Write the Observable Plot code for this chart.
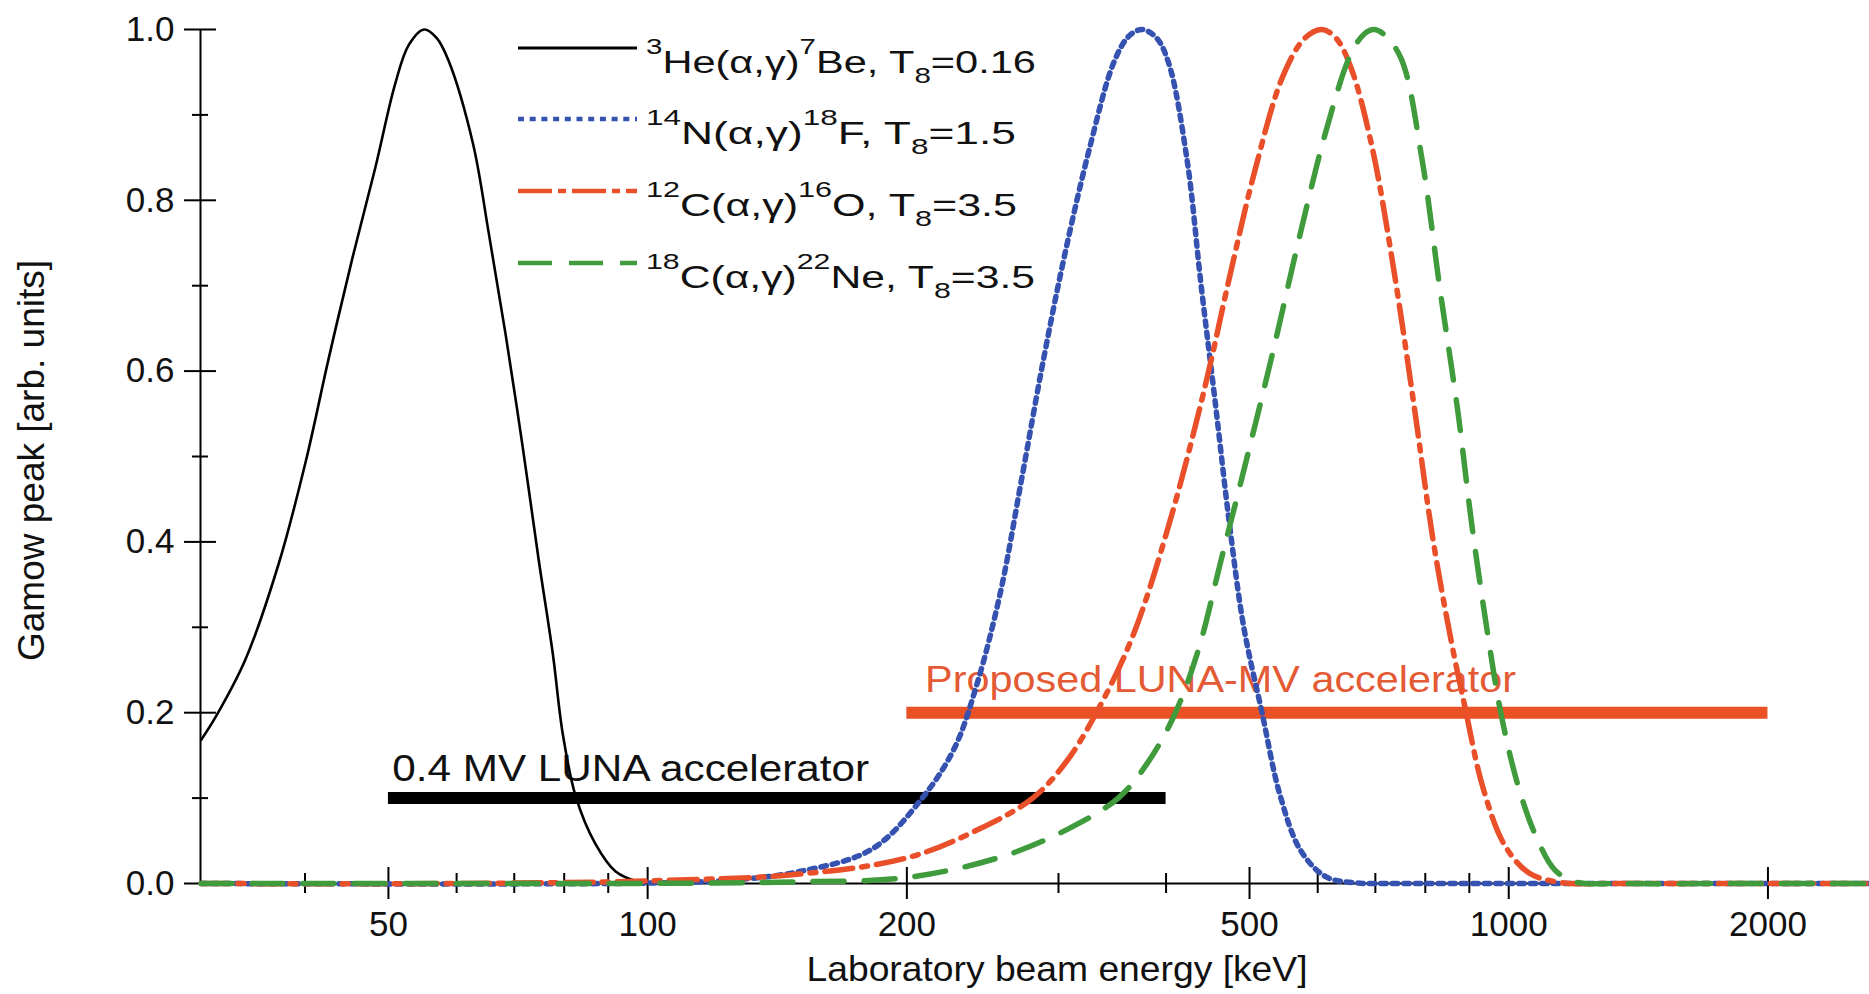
<!DOCTYPE html>
<html>
<head>
<meta charset="utf-8">
<script src="https://cdn.jsdelivr.net/npm/d3@7"></script>
<script src="https://cdn.jsdelivr.net/npm/@observablehq/plot@0.6"></script>
<style>
  html, body { margin: 0; padding: 0; background: #fff; }
  #chart svg { display: block; }
</style>
</head>
<body>
<div id="chart"></div>
<script>
// ---------------- data ----------------
// 3He(a,g)7Be, T8 = 0.16
const heEnergy = [30.3, 31.5, 34.1, 37.3, 40.1, 42.6, 45.4, 48.3, 50.9, 52.8, 55.0, 56.9, 58.7, 62.7, 65.4, 68.4, 71.6, 74.7, 77.6, 79.7, 82.5, 87.0, 91.8, 97.6, 102, 110];
const heGamow  = [0.168, 0.195, 0.262, 0.375, 0.495, 0.614, 0.732, 0.839, 0.936, 0.982, 1.0, 0.99, 0.964, 0.866, 0.761, 0.643, 0.511, 0.380, 0.269, 0.175, 0.102, 0.046, 0.014, 0.002, 0, 0];
// 14N(a,g)18F, T8 = 1.5
const nEnergy = [30.3, 100, 125, 150, 182, 208, 227, 241, 257, 272, 288, 305, 326, 348, 362, 375, 390, 403, 423, 439, 456, 474, 492, 517, 542, 573, 613, 660, 750, 1000, 1600, 2624];
const nGamow  = [0, 0.0005, 0.004, 0.014, 0.04, 0.099, 0.158, 0.232, 0.342, 0.475, 0.612, 0.736, 0.861, 0.962, 0.992, 1.0, 0.99, 0.96, 0.848, 0.703, 0.565, 0.42, 0.302, 0.2, 0.105, 0.039, 0.008, 0.001, 0, 0, 0, 0];
// 12C(a,g)16O, T8 = 3.5
const cEnergy = [30.3, 60, 100, 150, 200, 243, 280, 306, 332, 366, 403, 443, 474, 507, 547, 580, 607, 630, 656, 694, 735, 778, 816, 857, 889, 933, 989, 1057, 1151, 1300, 1700, 2624];
const cGamow  = [0, 0, 0.003, 0.011, 0.03, 0.064, 0.1, 0.142, 0.2, 0.29, 0.42, 0.578, 0.71, 0.834, 0.946, 0.99, 1.0, 0.99, 0.955, 0.862, 0.72, 0.553, 0.405, 0.285, 0.208, 0.113, 0.045, 0.012, 0.001, 0, 0, 0];
// 18C(a,g)22Ne, T8 = 3.5 (label as printed)
const oEnergy = [30.3, 80, 120, 150, 200, 257, 308, 352, 380, 408, 435, 464, 497, 531, 573, 613, 656, 680, 697, 715, 750, 793, 832, 873, 906, 942, 979, 1027, 1078, 1131, 1193, 1350, 1800, 2624];
const oGamow  = [0, 0, 0.0005, 0.002, 0.007, 0.031, 0.064, 0.1, 0.14, 0.195, 0.27, 0.381, 0.5, 0.618, 0.762, 0.88, 0.972, 0.995, 1.0, 0.995, 0.966, 0.848, 0.696, 0.552, 0.42, 0.302, 0.2, 0.112, 0.053, 0.016, 0.002, 0, 0, 0];

// accelerator ranges
const accelName  = ["0.4 MV LUNA accelerator", "Proposed LUNA-MV accelerator"];
const accelStart = [50, 200];
const accelEnd   = [400, 2000];
const accelLevel = [0.1, 0.2];
const accelLabelE = [50.5, 210];
const accelLabelG = [0.134, 0.238];

// axes
const xDomain = [30.25, 2624];
const xMajorTicks = [50, 100, 200, 500, 1000, 2000];
const xMinorTicks = [40, 60, 70, 80, 90, 300, 400, 600, 700, 800, 900];
const yMajorTicks = [0, 0.2, 0.4, 0.6, 0.8, 1.0];
const yMinorTicks = [0.1, 0.3, 0.5, 0.7, 0.9];
const xTitle = "Laboratory beam energy [keV]";
const yTitle = "Gamow peak [arb. units]";

// legend pieces
const legIsoA  = ["3", "14", "12", "18"];
const legElemA = ["He", "N", "C", "C"];
const legIsoB  = ["7", "18", "16", "22"];
const legElemB = ["Be", "F", "O", "Ne"];
const legT8    = ["0.16", "1.5", "3.5", "3.5"];

// ---------------- build ----------------
const toRows = (E, G) => E.map((e, i) => ({E: e, G: G[i]}));
const heRows = toRows(heEnergy, heGamow);
const nRows = toRows(nEnergy, nGamow);
const cRows = toRows(cEnergy, cGamow);
const oRows = toRows(oEnergy, oGamow);
const accelRows = accelName.map((n, i) => ({name: n, x1: accelStart[i], x2: accelEnd[i], y: accelLevel[i], lx: accelLabelE[i], ly: accelLabelG[i]}));

const BLUE = "#3552b0", RED = "#e9502a", GREEN = "#3f9b3b";
const FONT = "'Liberation Sans', Arial, Helvetica, sans-serif";

const W = 1869, H = 994;
const mL = 200, mR = 0, mT = 29, mB = 111;
const innerW = W - mL - mR, innerH = H - mT - mB;
const CURVE = "catmull-rom";

const svg = Plot.plot({
  width: W, height: H,
  marginLeft: mL, marginRight: mR, marginTop: mT, marginBottom: mB,
  x: {type: "log", domain: xDomain, axis: null},
  y: {domain: [0, 1], axis: null},
  style: {fontFamily: FONT, background: "#fff", overflow: "visible"},
  marks: [
    // axis lines
    Plot.ruleY([0], {stroke: "#000", strokeWidth: 2}),
    Plot.ruleX([xDomain[0]], {stroke: "#000", strokeWidth: 2}),
    // x ticks (crossing the axis)
    Plot.tickX(xMajorTicks, {x: d => d, insetTop: innerH - 16, insetBottom: -16, stroke: "#000", strokeWidth: 2}),
    Plot.tickX(xMinorTicks, {x: d => d, insetTop: innerH - 10, insetBottom: -10, stroke: "#000", strokeWidth: 2}),
    // y ticks (crossing the axis)
    Plot.tickY(yMajorTicks, {y: d => d, insetLeft: -16, insetRight: innerW - 16, stroke: "#000", strokeWidth: 2}),
    Plot.tickY(yMinorTicks, {y: d => d, insetLeft: -8, insetRight: innerW - 8, stroke: "#000", strokeWidth: 2}),
    // tick labels
    Plot.text(xMajorTicks, {x: d => d, y: 0, dy: 41, text: d => String(d), fontSize: 35, lineAnchor: "middle", fill: "#111"}),
    Plot.text(yMajorTicks, {x: xDomain[0], y: d => d, dx: -26, text: d => d.toFixed(1), textAnchor: "end", lineAnchor: "middle", fontSize: 35, fill: "#111"}),
    // axis titles
    Plot.text([xTitle], {frameAnchor: "bottom", dx: 22, dy: 86, text: d => d, textAnchor: "middle", lineAnchor: "middle", fontSize: 35, fill: "#111"}),
    Plot.text([yTitle], {frameAnchor: "left", dx: -168, dy: 4, rotate: -90, text: d => d, textAnchor: "middle", lineAnchor: "middle", fontSize: 37, fill: "#111"}),
    // accelerator bars
    Plot.ruleY(accelRows, {y: "y", x1: "x1", x2: "x2", stroke: (d, i) => i === 0 ? "#000" : "#ea5125", strokeWidth: 12, strokeLinecap: "butt"}),
    Plot.text(accelRows, {x: "lx", y: "ly", text: "name", textAnchor: "start", lineAnchor: "middle", fontSize: 37, fill: (d, i) => i === 0 ? "#111" : "#e35a34"}),
    // curves
    Plot.line(heRows, {x: "E", y: "G", stroke: "#000", strokeWidth: 2.6, curve: CURVE}),
    Plot.line(nRows, {x: "E", y: "G", stroke: BLUE, strokeWidth: 5.5, strokeDasharray: "5.5,6", curve: CURVE}),
    Plot.line(cRows, {x: "E", y: "G", stroke: RED, strokeWidth: 5.5, strokeDasharray: "28,9,6,9", curve: CURVE}),
    Plot.line(oRows, {x: "E", y: "G", stroke: GREEN, strokeWidth: 5.5, strokeDasharray: "31,20", curve: CURVE})
  ]
});

document.getElementById("chart").appendChild(svg);

// stretch some texts to the widths measured on the reference
const fit = (str, len) => d3.select(svg).selectAll("text")
  .filter(function () { return this.textContent === str; })
  .attr("textLength", len).attr("lengthAdjust", "spacingAndGlyphs");
fit(xTitle, 501);
fit(accelName[0], 477);
fit(accelName[1], 591);

// legend (inside the plot, upper middle)
const legStroke = ["#000", BLUE, RED, GREEN];
const legWidth = [3, 4.5, 4.5, 4.5];
const legDash = [null, "6,5.7", "34,6,8,6", "34,17"];
const legLineY = [48, 119, 191, 263];
const legTextLen = [390, 370, 371, 389];
const lg = d3.select(svg).append("g").attr("font-family", FONT).attr("fill", "#111").attr("text-anchor", "start");
legIsoA.forEach((iso, i) => {
  const y = legLineY[i];
  lg.append("line").attr("x1", 518).attr("x2", 637).attr("y1", y).attr("y2", y)
    .attr("stroke", legStroke[i]).attr("stroke-width", legWidth[i])
    .attr("stroke-dasharray", legDash[i]);
  const t = lg.append("text").attr("x", 646).attr("y", y + 25).attr("font-size", 31)
    .attr("text-anchor", "start")
    .attr("textLength", legTextLen[i]).attr("lengthAdjust", "spacingAndGlyphs");
  t.append("tspan").attr("font-size", 22).attr("dy", -19).text(iso);
  t.append("tspan").attr("dy", 19).text(legElemA[i] + "(α,γ)");
  t.append("tspan").attr("font-size", 22).attr("dy", -19).text(legIsoB[i]);
  t.append("tspan").attr("dy", 19).text(legElemB[i] + ", T");
  t.append("tspan").attr("font-size", 22).attr("dy", 10).text("8");
  t.append("tspan").attr("dy", -10).text("=" + legT8[i]);
});
</script>
</body>
</html>
